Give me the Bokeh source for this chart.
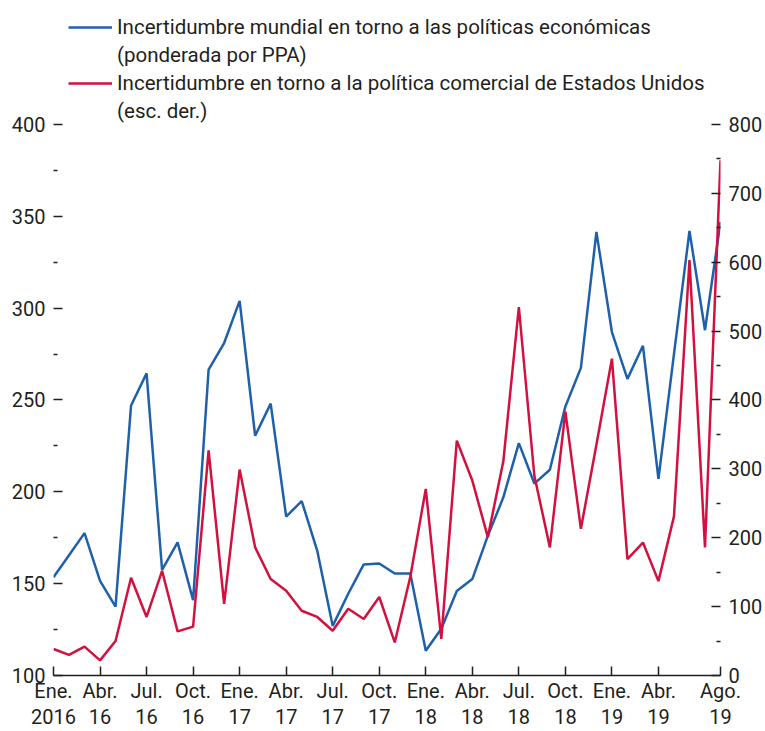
from bokeh.plotting import figure
from bokeh.models import (Range1d, LinearAxis, FixedTicker, Legend, LegendItem)
from bokeh.embed import file_html
from bokeh.resources import INLINE

# ---- data (monthly, Jan 2016 .. Aug 2019) ----
months = list(range(44))
global_epu = [153.5, 165.5, 177.5, 151.5, 137.5, 247, 264.5, 157.5, 172.5, 141,
              266.5, 281, 304, 230.5, 248, 186.5, 195, 168, 127, 144.5,
              160.5, 161, 155.5, 155.5, 113.5, 125.5, 146, 152.5, 176, 197,
              226.5, 204.5, 212, 246.5, 267.5, 341.5, 287, 261.5, 279.5, 207,
              275, 342, 288, 347]
us_trade = [38.5, 30, 42, 22, 50, 142, 85, 152, 64, 71,
            327, 104, 299, 186, 140, 123, 94, 85, 65, 97,
            82, 114, 48, 143, 271, 53, 341, 283, 201, 311,
            535, 290, 186, 383, 213, 335, 460, 169, 193, 137,
            231, 603, 186, 748]
tick_pos = [0, 3, 6, 9, 12, 15, 18, 21, 24, 27, 30, 33, 36, 39, 43]
tick_lbl = ["Ene.\n2016", "Abr.\n16", "Jul.\n16", "Oct.\n16", "Ene.\n17",
            "Abr.\n17", "Jul.\n17", "Oct.\n17", "Ene.\n18", "Abr.\n18",
            "Jul.\n18", "Oct.\n18", "Ene.\n19", "Abr.\n19", "Ago.\n19"]
left_ticks = [100, 150, 200, 250, 300, 350, 400]
left_minor = [125, 175, 225, 275, 325, 375]
right_ticks = [0, 100, 200, 300, 400, 500, 600, 700, 800]
right_minor = [50, 150, 250, 350, 450, 550, 650, 750]
name_blue = "Incertidumbre mundial en torno a las políticas económicas"
name_blue2 = "(ponderada por PPA)"
name_red = "Incertidumbre en torno a la política comercial de Estados Unidos"
name_red2 = "(esc. der.)"

FONT = "Roboto"
TXT = "#231f20"
BLUE = "#1f60ab"
RED = "#d2113f"
FS = "20px"
FSX = "20px"
FSL = "20.5px"

p = figure(frame_width=667, frame_height=675, output_backend="svg",
           toolbar_location=None, x_range=Range1d(0, 43),
           y_range=Range1d(100, 467.5),
           min_border_left=53, min_border_right=45, min_border_top=0,
           min_border_bottom=56, outline_line_color=None)
p.extra_y_ranges = {"right": Range1d(0, 980)}
p.grid.visible = False
p.background_fill_color = "white"

# axes styling
xa = p.xaxis[0]
xa.ticker = FixedTicker(ticks=tick_pos)
xa.major_label_overrides = {t: l for t, l in zip(tick_pos, tick_lbl)}
xa.major_tick_in = 9
xa.major_tick_out = 0
xa.minor_tick_line_color = None
xa.axis_line_color = TXT
xa.axis_line_width = 1.5
xa.major_tick_line_color = TXT
xa.major_tick_line_width = 1.5
xa.major_label_standoff = 3
xa.major_label_text_font = FONT
xa.major_label_text_font_size = FSX
xa.major_label_text_line_height = 1.12
xa.major_label_text_color = TXT

ya = p.yaxis[0]
ya.ticker = FixedTicker(ticks=left_ticks, minor_ticks=left_minor)
ya.axis_line_color = None
ya.major_tick_in = 9
ya.major_tick_out = 0
ya.minor_tick_in = 4
ya.minor_tick_out = 0
ya.major_tick_line_color = TXT
ya.minor_tick_line_color = TXT
ya.major_tick_line_width = 1.5
ya.minor_tick_line_width = 1.5
ya.major_label_standoff = 8
ya.major_label_text_font = FONT
ya.major_label_text_font_size = FS
ya.major_label_text_color = TXT

ra = LinearAxis(y_range_name="right",
                ticker=FixedTicker(ticks=right_ticks, minor_ticks=right_minor))
ra.axis_line_color = None
ra.major_tick_in = 9
ra.major_tick_out = 0
ra.minor_tick_in = 4
ra.minor_tick_out = 0
ra.major_tick_line_color = TXT
ra.minor_tick_line_color = TXT
ra.major_tick_line_width = 1.5
ra.minor_tick_line_width = 1.5
ra.major_label_standoff = 8
ra.major_label_text_font = FONT
ra.major_label_text_font_size = FS
ra.major_label_text_color = TXT
p.add_layout(ra, "right")

# series
lb = p.line(months, global_epu, line_color=BLUE, line_width=2.5)
lr = p.line(months, us_trade, line_color=RED, line_width=2.5,
            y_range_name="right")
d1 = p.line([], [], line_alpha=0)
d2 = p.line([], [], line_alpha=0)

legend = Legend(items=[LegendItem(label=name_blue, renderers=[lb]),
                       LegendItem(label=name_blue2, renderers=[d1]),
                       LegendItem(label=name_red, renderers=[lr]),
                       LegendItem(label=name_red2, renderers=[d2])],
                location=(15, 552), padding=0, spacing=4,
                label_height=24, glyph_height=24, glyph_width=44,
                label_standoff=5, background_fill_alpha=0,
                border_line_color=None, label_text_font=FONT,
                label_text_font_size=FSL, label_text_color=TXT)
p.add_layout(legend, "center")

open("out.html", "w").write(file_html(p, INLINE))
